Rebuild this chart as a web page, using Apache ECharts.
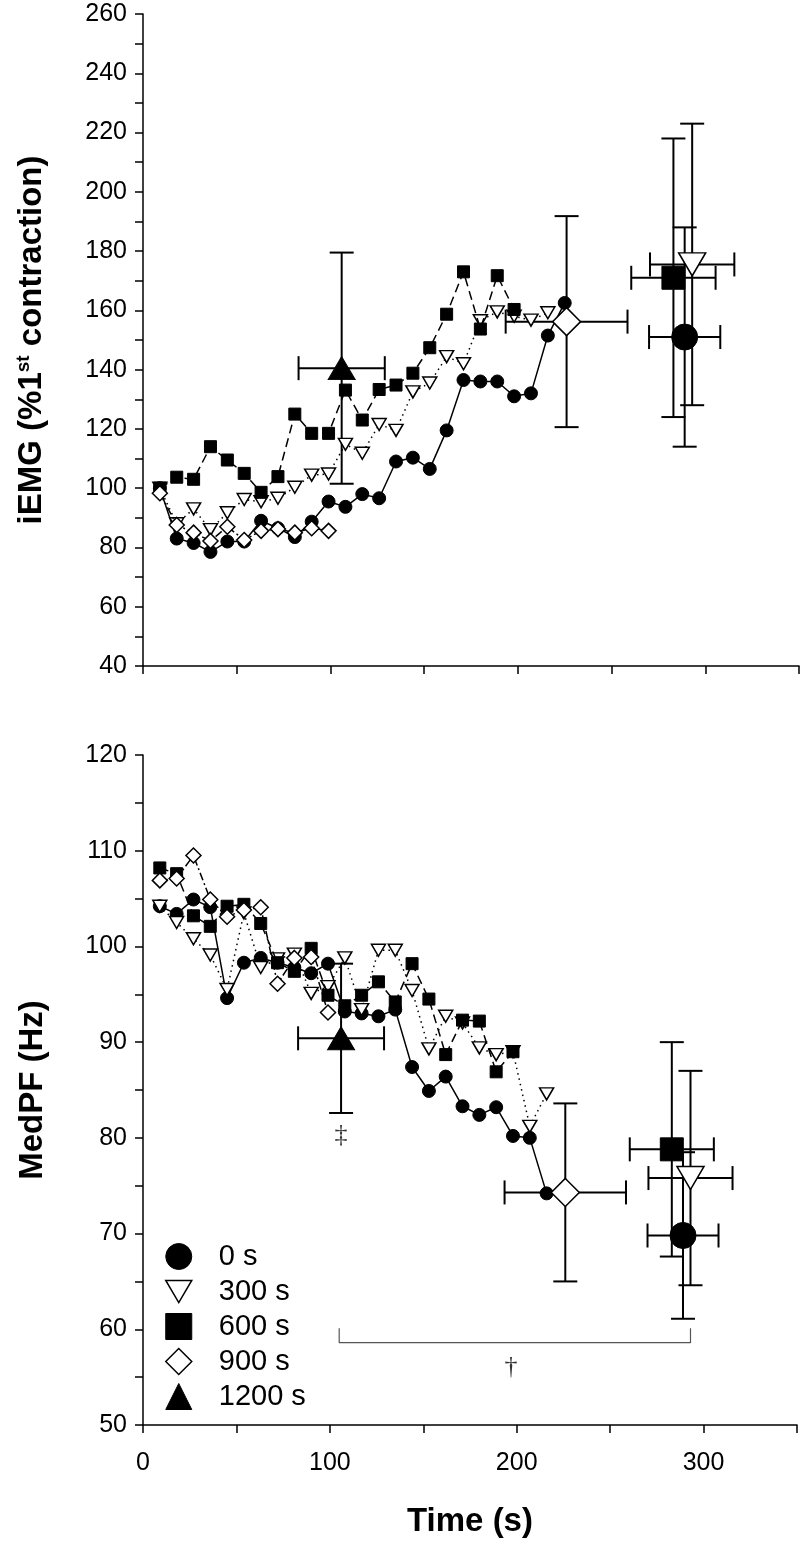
<!DOCTYPE html>
<html><head><meta charset="utf-8">
<script src="https://cdn.jsdelivr.net/npm/echarts@6/dist/echarts.min.js"></script>
<style>html,body{margin:0;padding:0;background:#fff}#c{width:800px;height:1550px}</style>
</head><body><div id="c"></div>
<script>
// ---- data ----
const times25 = [9,18,27,36,45,54,63,72,81,90,99,108,117,126,135,144,153,162,171,180,189,198,207,216,225];
const iemg0   = [100,83,81.5,78.5,82,82,89,86.5,83.5,88.7,95.5,93.7,98,96.6,109,110.3,106.5,119.5,136.5,136,136,131,132,151.5,162.5];
const iemg300 = [100,88,93,86,91.7,96.2,95.4,96.6,100.3,104.4,104.8,114.8,111.8,121.5,119.5,132.5,135.5,144.4,142,156.5,159.5,158,156.7,159.2];
const iemg600 = [100,103.7,103,114,109.5,105,98.6,103.9,125,118.5,118.5,133.1,123,133.3,134.8,138.8,147.4,158.7,173,153.7,171.7,160.3];
const iemg900 = [98.3,87.6,85,82.2,87,82.5,85.6,86.2,85,86.5,85.6];
const medpf0   = [104.2,103.4,104.9,104.1,94.6,98.3,98.8,98.3,97.8,97.2,98.2,93.2,93.0,92.7,93.4,87.4,84.9,86.4,83.3,82.4,83.2,80.2,80.0,74.2];
const medpf300 = [104.2,102.5,100.8,99.1,95.5,103.5,97.8,98.7,99.2,95.1,95.8,98.8,93.4,99.6,99.6,95.4,89.3,92.7,92.0,89.4,88.7,89.0,81.2,84.6];
const medpf600 = [108.2,107.6,103.2,102.1,104.2,104.4,102.4,98.3,97.4,99.8,94.9,93.8,94.9,96.3,94.2,98.2,94.5,88.7,92.3,92.2,86.9,89.0];
const medpf900 = [106.9,107.1,109.5,104.9,103.1,103.8,104.1,96.1,98.8,98.9,93.1];

const finalLabels  = ['0 s','300 s','600 s','900 s','1200 s'];
const finalTime    = [289, 293, 283, 226, 106];
const finalTimeErr = [19, 22.5, 22.5, 32.5, 23];
const iemgFinal    = [151, 175.5, 171, 156.2, 140.5];
const iemgFinalErr = [37, 47.5, 47, 35.6, 39];
const medpfFinal   = [69.8, 75.8, 78.8, 74.3, 90.4];
const medpfFinalErr= [8.7, 11.2, 11.2, 9.3, 7.8];

const bracketX = [105, 105, 293, 293];
const bracketY = [60.1, 58.6, 58.6, 60.1];
const daggerPos = [197, 56];
const ddaggerPos = [106, 80.3];

const xTicks = [0, 100, 200, 300];

// ---- styles ----
const FONT = '"Liberation Sans", Arial, sans-serif';
const filled = {color:'#000', borderColor:'#000', borderWidth:1, opacity:1};
const open = {color:'#fff', borderColor:'#000', borderWidth:1.5, opacity:1};
const triDown = 'path://M0,0 L20,0 L10,17 Z';
const symbols = [
  {symbol:'circle', style:filled, bigSize:26, smallSize:13},
  {symbol:triDown, style:open, bigSize:[27,23], smallSize:[14,12]},
  {symbol:'rect', style:filled, bigSize:23, smallSize:12},
  {symbol:'diamond', style:open, bigSize:[28,28], smallSize:[15,15]},
  {symbol:'triangle', style:filled, bigSize:[27,23], smallSize:[13,11]}
];
const lineTypes = ['solid', [1.5,4], [9,5], [8,3,2,3]];

function zip(xs, ys){ return ys.map((v,i)=>[xs[i], v]); }

function lineSeries(idx, values, gi){
  const s = symbols[idx];
  return {
    type:'line', name:'L'+idx+'_'+gi, xAxisIndex:gi, yAxisIndex:gi,
    data: zip(times25, values),
    symbol:s.symbol, symbolSize:s.smallSize,
    itemStyle:s.style, showAllSymbol:true,
    lineStyle:{color:'#000', width:1.5, type: lineTypes[idx]},
    z: 3 + idx*0.1, animation:false, silent:true
  };
}

function errSeries(vals, errs, gi){
  return {
    type:'custom', xAxisIndex:gi, yAxisIndex:gi, silent:true, animation:false, z:2,
    data: finalTime.map((t,i)=>[t, vals[i], finalTimeErr[i], errs[i]]),
    renderItem: function(params, api){
      const x = api.value(0), y = api.value(1), xe = api.value(2), ye = api.value(3);
      const c = api.coord([x,y]);
      const l = api.coord([x-xe,y]), r = api.coord([x+xe,y]);
      const t = api.coord([x,y+ye]), b = api.coord([x,y-ye]);
      const cap = 12;
      const st = {stroke:'#000', lineWidth:2};
      return {type:'group', children:[
        {type:'line', shape:{x1:l[0],y1:c[1],x2:r[0],y2:c[1]}, style:st},
        {type:'line', shape:{x1:l[0],y1:c[1]-cap,x2:l[0],y2:c[1]+cap}, style:st},
        {type:'line', shape:{x1:r[0],y1:c[1]-cap,x2:r[0],y2:c[1]+cap}, style:st},
        {type:'line', shape:{x1:c[0],y1:t[1],x2:c[0],y2:b[1]}, style:st},
        {type:'line', shape:{x1:c[0]-cap,y1:t[1],x2:c[0]+cap,y2:t[1]}, style:st},
        {type:'line', shape:{x1:c[0]-cap,y1:b[1],x2:c[0]+cap,y2:b[1]}, style:st}
      ]};
    }
  };
}

function finalSeries(vals, gi){
  return finalLabels.map((name,i)=>({
    type:'scatter', name:name, xAxisIndex:gi, yAxisIndex:gi, silent:true, animation:false,
    data:[[finalTime[i], vals[i]]],
    symbol:symbols[i].symbol, symbolSize:symbols[i].bigSize,
    itemStyle:symbols[i].style, z:5
  }));
}

const axisLine = {show:true, onZero:false, lineStyle:{color:'#000', width:1.5}};
const tick = {show:true, length:8, lineStyle:{color:'#000', width:1.5}};
const labelStyle = {color:'#000', fontSize:25, fontFamily:FONT};
const titleStyle = {fontSize:33, fontWeight:'bold', color:'#000', fontFamily:FONT};

const option = {
  backgroundColor:'#fff',
  animation:false,
  grid:[
    {left:143, width:656, top:14, height:652},
    {left:143, width:656, top:755, height:670}
  ],
  xAxis:[
    {gridIndex:0, type:'value', min:0, max:350, interval:50, axisLine, axisTick:tick,
     axisLabel:{show:false}, splitLine:{show:false}},
    {gridIndex:1, type:'value', min:0, max:350, interval:50, axisLine, axisTick:tick,
     axisLabel:Object.assign({margin:26, formatter:v=> xTicks.includes(v) ? String(v) : ''}, labelStyle),
     splitLine:{show:false},
     name:'Time (s)', nameLocation:'middle', nameGap:80,
     nameTextStyle:titleStyle}
  ],
  yAxis:[
    {gridIndex:0, type:'value', min:40, max:260, interval:20, axisLine, axisTick:tick,
     minorTick:{show:true, splitNumber:2, length:8, lineStyle:{color:'#000', width:1.5}},
     axisLabel:Object.assign({margin:16}, labelStyle), splitLine:{show:false},
     name:'{a|iEMG (%1}{s|st}{a| contraction)}', nameLocation:'middle', nameGap:94, nameRotate:90,
     nameTextStyle:{rich:{
       a:Object.assign({}, titleStyle),
       s:{fontSize:19, fontWeight:'bold', color:'#000', fontFamily:FONT, verticalAlign:'top', padding:[0,0,16,0]}
     }}},
    {gridIndex:1, type:'value', min:50, max:120, interval:10, axisLine, axisTick:tick,
     minorTick:{show:true, splitNumber:2, length:8, lineStyle:{color:'#000', width:1.5}},
     axisLabel:Object.assign({margin:16}, labelStyle), splitLine:{show:false},
     name:'MedPF (Hz)', nameLocation:'middle', nameGap:94, nameRotate:90,
     nameTextStyle:titleStyle}
  ],
  legend:{
    orient:'vertical', left:160, top:1237, itemGap:6, itemWidth:26, itemHeight:26,
    textStyle:{fontSize:29, color:'#000', fontFamily:FONT, padding:[0,0,0,22]},
    data: finalLabels.map((n,i)=>({name:n, icon: symbols[i].symbol==='rect' ? 'rect' : symbols[i].symbol,
      itemStyle: symbols[i].style})),
    selectedMode:false
  },
  series:[
    // top chart
    lineSeries(3, iemg900, 0),
    lineSeries(0, iemg0, 0),
    lineSeries(1, iemg300, 0),
    lineSeries(2, iemg600, 0),
    errSeries(iemgFinal, iemgFinalErr, 0),
    ...finalSeries(iemgFinal, 0),
    // bottom chart
    lineSeries(3, medpf900, 1),
    lineSeries(0, medpf0, 1),
    lineSeries(1, medpf300, 1),
    lineSeries(2, medpf600, 1),
    errSeries(medpfFinal, medpfFinalErr, 1),
    ...finalSeries(medpfFinal, 1),
    {type:'line', xAxisIndex:1, yAxisIndex:1, silent:true, animation:false, symbol:'none',
     data: zip(bracketX, bracketY), lineStyle:{color:'#555', width:1.2}, z:1},
    {type:'scatter', xAxisIndex:1, yAxisIndex:1, silent:true, animation:false, symbolSize:1,
     itemStyle:{color:'rgba(0,0,0,0)'},
     data:[{value:daggerPos, label:{show:true, formatter:'†'}}, {value:ddaggerPos, label:{show:true, formatter:'‡'}}],
     label:{position:'inside', fontSize:26, color:'#000', fontFamily:'"Liberation Serif", "DejaVu Serif", serif'}}
  ]
};

const chart = echarts.init(document.getElementById('c'), null, {renderer:'canvas'});
chart.setOption(option);
</script>
</body></html>
